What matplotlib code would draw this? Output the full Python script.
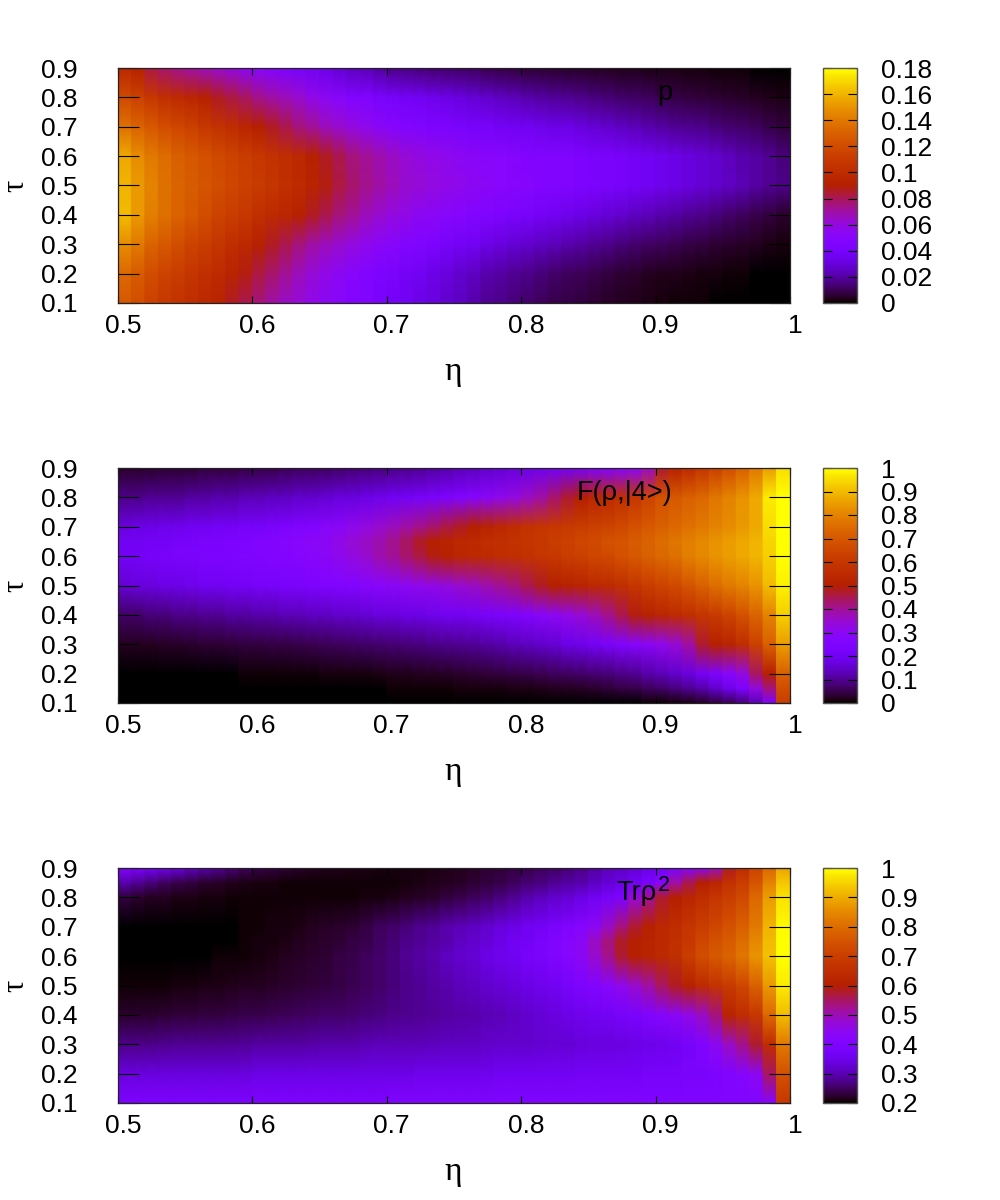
import numpy as np
import matplotlib
matplotlib.use('Agg')
import matplotlib.pyplot as plt
from matplotlib.transforms import ScaledTranslation

plt.rcParams['font.family'] = ['Liberation Sans', 'DejaVu Sans']

W, H = 1000, 1200

# cells are 0.01 wide in eta, rows are read at the tau values below
eta_edges = np.arange(0.50, 1.001, 0.01)
eta_ticks = [0.5, 0.6, 0.7, 0.8, 0.9, 1.0]
tau_ticks = [0.1, 0.2, 0.3, 0.4, 0.5, 0.6, 0.7, 0.8, 0.9]

p_tau = [0.1, 0.2, 0.3, 0.4, 0.5, 0.6, 0.7, 0.8, 0.9]
fidelity_tau = [0.1, 0.15, 0.2, 0.3, 0.4, 0.5, 0.6, 0.65, 0.7, 0.8, 0.9]
purity_tau = [0.1, 0.2, 0.3, 0.4, 0.5, 0.6, 0.65, 0.7, 0.8, 0.85, 0.9]

# values, as percent of each colour bar's range
p_pct = [
    [70, 67, 63, 60, 58, 56, 54, 52, 48, 45,
     42, 39, 36, 34, 32, 30, 28, 26, 25, 23,
     21, 20, 18, 17, 15, 14, 12, 10, 9, 8,
     7, 6, 5, 4.5, 4, 3.2, 2.6, 2, 1.6, 1.2,
     0.9, 0.7, 0.5, 0.4, 0.3, 0.2, 0.15, 0.1, 0.06, 0.03],
    [74, 71, 67, 64, 62, 59, 57, 55, 52, 49,
     46, 43, 40, 37, 34, 32, 30, 28, 26, 24,
     23, 21, 20, 18, 17, 15, 14, 12, 11, 10,
     9, 8, 7, 6, 5.5, 4.8, 4, 3.4, 2.8, 2.3,
     1.9, 1.6, 1.3, 1, 0.8, 0.6, 0.45, 0.3, 0.2, 0.12],
    [82, 78, 73, 70, 67, 64, 62, 59, 56, 54,
     51, 48, 45, 42, 39, 37, 35, 33, 31, 29,
     28, 26, 25, 24, 22, 21, 20, 18, 17, 16,
     15, 14, 13, 12, 11, 10, 9, 8, 7.4, 6.6,
     6, 5.2, 4.6, 4, 3.4, 2.8, 2.4, 2, 1.5, 1],
    [90, 84, 79, 76, 73, 70, 67, 64, 62, 60,
     57, 55, 53, 51, 48, 45, 42, 40, 37, 35,
     33, 32, 30, 29, 28, 27, 26, 25, 24, 23,
     22, 21, 20, 19, 18, 17, 16, 15, 14, 13,
     12, 11, 10, 9, 8, 7, 6, 5, 4, 3],
    [89, 84, 80, 76, 73, 71, 69, 67, 65, 63,
     61, 59, 57, 55, 52, 49, 46, 43, 41, 39,
     37, 35, 34, 33, 32, 31, 30, 29, 28, 27.5,
     27, 26, 25.5, 25, 24, 23.5, 23, 22, 21, 20,
     19, 18, 17, 16, 15, 14, 12.5, 11, 10, 9],
    [87, 82, 78, 75, 72, 70, 68, 66, 64, 62,
     60, 58, 56, 54, 51, 48, 45, 42, 40, 38,
     36, 34, 33, 32, 31, 30, 29, 28, 28, 27,
     26, 26, 25, 25, 24, 23, 23, 22, 21, 20,
     19, 18, 17, 16, 15, 13.5, 12, 11, 10, 8],
    [76, 73, 70, 67, 65, 63, 60, 58, 56, 53,
     50, 48, 45, 42, 40, 37, 35, 33, 31, 29,
     27, 26, 25, 24, 24, 23, 22, 22, 21, 20,
     20, 19, 18, 18, 17, 16, 15, 14, 13, 12,
     11, 10, 9.5, 9, 8, 7.4, 6.8, 6, 5, 4],
    [66, 63, 60, 57, 55, 53, 51, 48, 46, 44,
     41, 39, 37, 35, 32, 30, 28, 26, 25, 23,
     22, 21, 20, 19, 18, 17, 16, 15, 14, 13,
     12, 11, 10.5, 10, 9, 8.4, 7.8, 7, 6.5, 6,
     5, 4.6, 4, 3.6, 3.2, 2.8, 2.4, 2, 1.6, 1.3],
    [54, 51, 46, 43, 41, 39, 37, 35, 33, 30,
     28, 26, 24, 22, 20, 18, 16, 14, 13, 11,
     9, 8.6, 8, 7.4, 7, 6.4, 6, 5, 4.4, 4,
     3.5, 3.2, 3, 2.7, 2.5, 2.2, 2, 1.8, 1.6, 1.5,
     1.4, 1.2, 1, 0.8, 0.6, 0.5, 0.4, 0.3, 0.2, 0.2],
]

fidelity_pct = [
    [0.02, 0.02, 0.02, 0.02, 0.02, 0.02, 0.02, 0.02, 0.02, 0.02,
     0.03, 0.03, 0.03, 0.03, 0.03, 0.03, 0.03, 0.03, 0.03, 0.03,
     0.04, 0.04, 0.04, 0.04, 0.04, 0.05, 0.05, 0.05, 0.05, 0.05,
     0.06, 0.07, 0.08, 0.09, 0.1, 0.12, 0.16, 0.2, 0.3, 0.4,
     0.6, 0.9, 1.5, 2.4, 4, 5.5, 8, 13, 24, 62],
    [0.05, 0.05, 0.05, 0.06, 0.06, 0.07, 0.08, 0.09, 0.1, 0.11,
     0.12, 0.14, 0.16, 0.18, 0.2, 0.23, 0.26, 0.3, 0.33, 0.37,
     0.4, 0.45, 0.5, 0.6, 0.7, 0.8, 0.9, 1, 1.1, 1.3,
     1.5, 1.7, 2, 2.3, 2.7, 3.1, 3.6, 4.3, 5, 6,
     7, 8.5, 10, 12, 15, 19, 24, 33, 42, 67],
    [0.15, 0.16, 0.18, 0.2, 0.22, 0.25, 0.28, 0.32, 0.36, 0.4,
     0.45, 0.5, 0.55, 0.6, 0.7, 0.8, 0.9, 1, 1.1, 1.3,
     1.7, 1.9, 2.1, 2.3, 2.6, 2.9, 3.2, 3.6, 4, 4.4,
     5, 5.4, 6, 6.5, 7, 7.6, 8.2, 9, 10, 12,
     13, 15, 17, 21, 24, 28, 33, 44, 50, 72],
    [2, 2, 2, 2.4, 2.7, 3, 3.2, 3.4, 3.6, 4,
     4, 4.3, 4.6, 5, 5.3, 5.7, 6, 6.4, 6.8, 7.2,
     7.6, 8, 8.5, 9, 9.5, 10, 10.5, 11, 12, 13,
     14, 15, 16, 18, 19, 21, 23, 25, 27, 29,
     31, 34, 39, 47, 50, 52, 56, 63, 72, 85],
    [7, 7, 8, 8, 9, 9, 10, 10, 11, 11,
     12, 12, 13, 13, 14, 14, 15, 15, 16, 17,
     17, 18, 18, 19, 20, 20, 21, 22, 23, 24,
     26, 28, 30, 32, 34, 37, 41, 45, 49, 51,
     53, 55, 57, 59, 61, 64, 68, 73, 80, 93],
    [16, 17, 17, 18, 18, 19, 20, 20, 21, 21,
     22, 22, 23, 23, 24, 25, 25, 26, 27, 28,
     29, 30, 31, 32, 33, 35, 36, 38, 40, 42,
     45, 48, 50, 51, 52, 54, 55, 57, 59, 62,
     64, 66, 69, 72, 75, 78, 80, 83, 90, 98],
    [21, 21, 22, 22, 23, 23, 24, 24, 24, 25,
     25, 26, 26, 27, 28, 29, 31, 33, 35, 38,
     40, 43, 46, 49, 51, 53, 54, 55, 56, 57,
     58, 59, 60, 62, 63, 65, 66, 68, 70, 72,
     74, 76, 79, 81, 83, 85, 87, 89, 93, 100],
    [20, 20, 21, 21, 22, 22, 23, 23, 24, 24,
     25, 26, 27, 28, 29, 30, 32, 34, 36, 38,
     41, 44, 48, 50, 52, 54, 55, 56, 57, 58,
     59, 60, 62, 63, 65, 66, 68, 69, 71, 73,
     75, 77, 79, 81, 83, 85, 87, 89, 94, 100],
    [17, 18, 18, 19, 19, 20, 20, 21, 21, 22,
     22, 23, 24, 25, 26, 28, 29, 31, 33, 35,
     37, 39, 41, 43, 46, 48, 50, 52, 54, 56,
     58, 59, 60, 61, 62, 63, 64, 66, 68, 70,
     72, 74, 76, 78, 80, 82, 84, 87, 95, 100],
    [9, 9, 10, 10, 10, 11, 11, 12, 12, 13,
     13, 14, 14, 15, 15, 16, 17, 17, 18, 19,
     20, 21, 22, 23, 24, 25, 27, 29, 31, 33,
     36, 39, 43, 47, 50, 53, 55, 57, 60, 64,
     68, 70, 72, 74, 77, 80, 83, 87, 97, 100],
    [3, 3, 3, 3.5, 3.5, 3.5, 4, 4, 4, 4.5,
     5, 5, 5.5, 6, 6, 6.5, 7, 7.5, 8, 8.5,
     9, 9.5, 10, 11, 12, 13, 14, 15, 16, 17,
     18, 19, 20, 21, 22, 24, 25, 27, 29, 36,
     47, 51, 55, 59, 63, 67, 72, 78, 85, 95],
]

purity_pct = [
    [24, 24, 24, 24, 24, 24, 24, 24, 24, 24,
     24, 24, 24, 24, 24, 24, 24, 24, 24, 24,
     25, 25, 25, 25, 25, 25, 25, 25, 25, 25,
     25, 25, 25, 25, 25, 25, 25, 25, 25, 25,
     25, 25, 25, 25, 25, 25, 25, 26, 27, 60],
    [17, 17, 17, 17, 17, 17, 17, 17, 17, 17,
     18, 18, 18, 18, 18, 18, 18, 18, 18, 18,
     18, 18, 19, 19, 19, 19, 19, 19, 20, 20,
     20, 20, 20, 20, 21, 21, 21, 21, 21, 22,
     22, 22, 23, 23, 24, 25, 27, 30, 44, 68],
    [9, 9, 9, 9.5, 10, 10, 10, 10, 10, 10.5,
     11, 11, 11, 11, 11.5, 12, 12, 12, 12.5, 13,
     13, 13, 13, 13.5, 14, 14, 14, 14.5, 15, 15,
     15, 15.5, 16, 16, 16.5, 17, 17, 17.5, 18, 18.5,
     19, 20, 22, 25, 30, 36, 41, 47, 56, 78],
    [3, 3, 3, 3.4, 3.6, 3.8, 4, 4.2, 4.6, 5,
     5, 5.4, 5.8, 6, 6.4, 6.8, 7, 7.4, 8, 8.5,
     9, 9.5, 10, 10.5, 11, 11.5, 12, 12.5, 13, 14,
     15, 16, 17, 18, 19, 20, 21, 22, 23, 25,
     27, 29, 32, 36, 42, 52, 56, 60, 74, 90],
    [0.4, 0.5, 0.6, 0.7, 0.9, 1.1, 1.3, 1.5, 1.7, 2,
     2.2, 2.5, 2.8, 3.2, 3.6, 4, 4.6, 5.2, 6, 7,
     8, 9, 10, 11, 12, 13, 14, 15, 16, 17,
     18, 19, 20, 22, 24, 26, 28, 31, 35, 39,
     44, 48, 51, 55, 58, 61, 65, 72, 84, 97],
    [0, 0.02, 0.05, 0.1, 0.15, 0.2, 0.3, 0.4, 0.5, 0.7,
     1, 1.5, 2, 2.5, 3, 3.5, 4.5, 5, 6, 7,
     8, 10, 11, 12, 14, 15, 16, 18, 19, 20,
     22, 23, 25, 27, 30, 35, 41, 47, 50, 52,
     54, 57, 62, 67, 70, 73, 77, 83, 91, 100],
    [0, 0.02, 0.04, 0.06, 0.1, 0.14, 0.18, 0.24, 0.3, 0.4,
     0.8, 1, 1.5, 2, 2.5, 3, 3.5, 4.5, 5, 6.5,
     7.5, 9, 10, 11, 12, 14, 15, 16, 18, 20,
     21, 23, 25, 27, 30, 36, 42, 48, 50, 52,
     54, 57, 60, 65, 68, 71, 75, 81, 90, 100],
    [0, 0.02, 0.04, 0.06, 0.1, 0.14, 0.18, 0.24, 0.3, 0.4,
     0.6, 0.8, 1, 1.5, 2, 2.5, 3, 3.5, 4.5, 6,
     7, 8, 9.5, 10.5, 12, 13, 14, 15.5, 17, 18,
     20, 21, 23, 25, 27, 30, 36, 42, 47, 51,
     54, 56, 59, 62, 65, 68, 72, 78, 89, 99],
    [4, 3, 2, 2, 1.5, 1.2, 1, 0.8, 0.6, 0.5,
     0.4, 0.4, 0.4, 0.4, 0.4, 0.5, 0.6, 0.7, 0.8, 1,
     1.5, 2, 2.5, 3, 4, 5, 6, 7, 8.5, 10,
     12, 13.5, 15, 16, 18, 20, 22, 24, 34, 40,
     47, 50, 53, 56, 59, 62, 66, 74, 85, 96],
    [12, 10, 8, 6, 5, 4, 3, 2.4, 1.8, 1.4,
     1, 0.8, 0.6, 0.5, 0.4, 0.4, 0.4, 0.4, 0.4, 0.5,
     0.7, 0.9, 1.2, 1.6, 2, 2.6, 3.2, 4, 5, 6,
     7.5, 8.5, 10, 11, 12, 14, 16, 18, 20, 23,
     28, 39, 45, 50, 53, 58, 62, 69, 80, 92],
    [26, 23, 21, 19, 17, 14, 12, 10, 8, 6,
     5, 4, 3.2, 2.6, 2.2, 1.8, 1.6, 1.4, 1.2, 1.1,
     1, 1, 1.1, 1.4, 1.7, 2, 2.6, 3.2, 3.8, 4.4,
     5, 6, 6.5, 7.5, 9, 11, 13, 14, 16, 18,
     21, 23, 26, 29, 36, 48, 56, 64, 74, 86],
]

p_range = (0.0, 0.18)
fidelity_range = (0.0, 1.0)
purity_range = (0.2, 1.0)

p_ticks = [0, 0.02, 0.04, 0.06, 0.08, 0.1, 0.12, 0.14, 0.16, 0.18]
fidelity_ticks = [0, 0.1, 0.2, 0.3, 0.4, 0.5, 0.6, 0.7, 0.8, 0.9, 1]
purity_ticks = [0.2, 0.3, 0.4, 0.5, 0.6, 0.7, 0.8, 0.9, 1]

panels = [
    (p_tau, p_pct, p_range, p_ticks, 'p', 0.90, 68),
    (fidelity_tau, fidelity_pct, fidelity_range, fidelity_ticks, 'F(ρ,|4>)', 0.84, 468),
    (purity_tau, purity_pct, purity_range, purity_ticks, 'Trρ', 0.87, 868),
]


def px_axes(fig, left, top, right, bottom):
    return fig.add_axes([left / W, 1 - bottom / H, (right - left) / W, (bottom - top) / H])


def shift_labels(labels, dx, dy, fig):
    for lab in labels:
        lab.set_transform(lab.get_transform() + ScaledTranslation(dx / 100, dy / 100, fig.dpi_scale_trans))


fig = plt.figure(figsize=(W / 100, H / 100), dpi=100)

for tau_rows, pct, (lo, hi), cticks, name, name_eta, top in panels:
    bottom = top + 235
    values = lo + (hi - lo) * np.array(pct, dtype=float) / 100

    ax = px_axes(fig, 118, top, 790, bottom)
    # each column is flat in eta and shaded only along tau
    x_nodes = np.column_stack([eta_edges[:-1], eta_edges[1:]]).ravel()
    X, Y = np.meshgrid(x_nodes, tau_rows)
    Z = np.repeat(values, 2, axis=1)
    mesh = ax.pcolormesh(X, Y, Z, shading='gouraud', cmap='gnuplot', vmin=lo, vmax=hi)

    ax.set_xlim(0.5, 1.0)
    ax.set_ylim(0.1, 0.9)
    ax.set_xticks(eta_ticks)
    ax.set_yticks(tau_ticks)
    ax.set_xticklabels(['%g' % t for t in eta_ticks])
    ax.set_yticklabels(['%g' % t for t in tau_ticks])
    ax.tick_params(axis='x', direction='in', top=True, bottom=True, length=5, width=0.8, labelsize=19, pad=8)
    ax.tick_params(axis='y', direction='in', left=True, right=True, length=15, width=0.8, labelsize=19, pad=29)
    shift_labels(ax.get_xticklabels(), 5, 0, fig)
    for s in ax.spines.values():
        s.set_linewidth(0.9)
        s.set_color('#222222')

    ax.annotate(name, (name_eta, 0.8), xytext=(1, -2.2), textcoords='offset points',
                fontsize=19.5, va='baseline', ha='left', color='black')
    if name == 'Trρ':
        ax.annotate('2', (name_eta, 0.8), xytext=(31, 4.5), textcoords='offset points',
                    fontsize=15.5, va='baseline', ha='left', color='black')

    fig.text(453 / W, 1 - (bottom + 69) / H, 'η', fontsize=24, family='Liberation Serif', ha='center', va='center')
    fig.text(1 / W, 1 - (top + 118) / H, 'τ', fontsize=22, family='Liberation Serif', ha='left', va='center',
             rotation=90)

    cax = px_axes(fig, 823, top, 857, bottom)
    cb = fig.colorbar(mesh, cax=cax)
    cb.set_ticks(cticks)
    cb.set_ticklabels(['%g' % t for t in cticks])
    cax.tick_params(direction='in', left=True, right=True, length=6.5, width=0.8, labelsize=19, pad=17)
    cb.outline.set_linewidth(1)
    cb.outline.set_edgecolor('#555555')

fig.savefig('out.png', dpi=100)
